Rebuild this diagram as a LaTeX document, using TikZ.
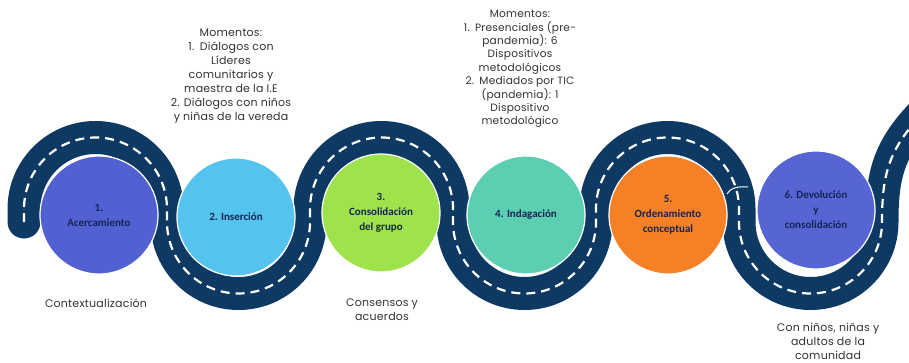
\documentclass[tikz,border=0pt]{standalone}
\usepackage{fontspec}
\setmainfont{Poppins}[LetterSpace=2]
\newfontfamily\stagefont{Carlito}
\usetikzlibrary{positioning}

\definecolor{roadblue}{RGB}{13,57,98}
\definecolor{stagetext}{RGB}{22,36,84}
\definecolor{notetext}{RGB}{50,50,50}
\definecolor{acercaColor}{RGB}{82,97,210}
\definecolor{insercionColor}{RGB}{84,196,238}
\definecolor{grupoColor}{RGB}{158,226,76}
\definecolor{indagaColor}{RGB}{92,206,178}
\definecolor{ordenColor}{RGB}{245,128,38}
\definecolor{devolColor}{RGB}{86,100,212}

\tikzset{
	stage/.style={circle, minimum size=118pt, inner sep=0pt, align=center, draw=white, line width=1.2pt,
		text=stagetext, font=\stagefont\bfseries\fontsize{11}{15}\selectfont},
	note/.style={align=center, text=notetext, inner sep=0pt, font=\fontsize{11}{14}\selectfont},
	roadband/.style={draw=roadblue, line width=33pt, line cap=round,
		postaction={draw=white, line width=2.2pt, line cap=butt, dash pattern=on 9pt off 6pt}}
}

\begin{document}
\begin{tikzpicture}[x=1pt, y=1pt]
\useasboundingbox (0,0) rectangle (909,362);
\clip (0,0) rectangle (909,362);
\path[roadband] (24,140) -- (24,153) arc[start angle=180, end angle=0, radius=71.5]
			-- ++(0,-13) arc[start angle=180, end angle=360, radius=71.5]
			-- ++(0,13) arc[start angle=180, end angle=0, radius=71.5]
			-- ++(0,-13) arc[start angle=180, end angle=360, radius=71.5]
			-- ++(0,13) arc[start angle=180, end angle=0, radius=71.5]
			-- ++(0,-13) arc[start angle=180, end angle=360, radius=71.5]
			.. controls (882,192) and (890,217) .. (932,258);
\draw[white, line width=1pt] (727,168) .. controls (730,174) and (738,176) .. (748,175);
\node[stage, fill=acercaColor]		(acercamiento)	at (99,147)		{1.\\Acercamiento};
\node[stage, fill=insercionColor]	(insercion)		at (236,145)	{2. Inserción};
\node[stage, fill=grupoColor]		(consolidacion)	at (381,149)	{3.\\Consolidación\\del grupo};
\node[stage, fill=indagaColor]		(indagacion)	at (526,147)	{4. Indagación};
\node[stage, fill=ordenColor]		(ordenamiento)	at (668,147)	{5.\\Ordenamiento\\conceptual};
\node[stage, fill=devolColor]		(devolucion)	at (816,152)	{6. Devolución\\y\\consolidación};
\node[note]		(momentosA)		at (231,286)	{Momentos:\\1.\enspace Diálogos con\\Líderes\\comunitarios y\\maestra de la I.E\\2. Diálogos con niños\\y niñas de la vereda};
\node[note, font=\fontsize{10.6}{13.4}\selectfont]	(momentosB)	at (520,293)	{Momentos:\\1.\enspace Presenciales (pre-\\pandemia): 6\\Dispositivos\\metodológicos\\2.\enspace Mediados por TIC\\(pandemia): 1\\Dispositivo\\metodológico};
\node[note]		(contexto)		at (96,59)		{Contextualización};
\node[note]		(consensos)		at (382,52)		{Consensos y\\acuerdos};
\node[note]		(comunidad)		at (828,21)		{Con niños, niñas y\\adultos de la\\comunidad};
\end{tikzpicture}
\end{document}
